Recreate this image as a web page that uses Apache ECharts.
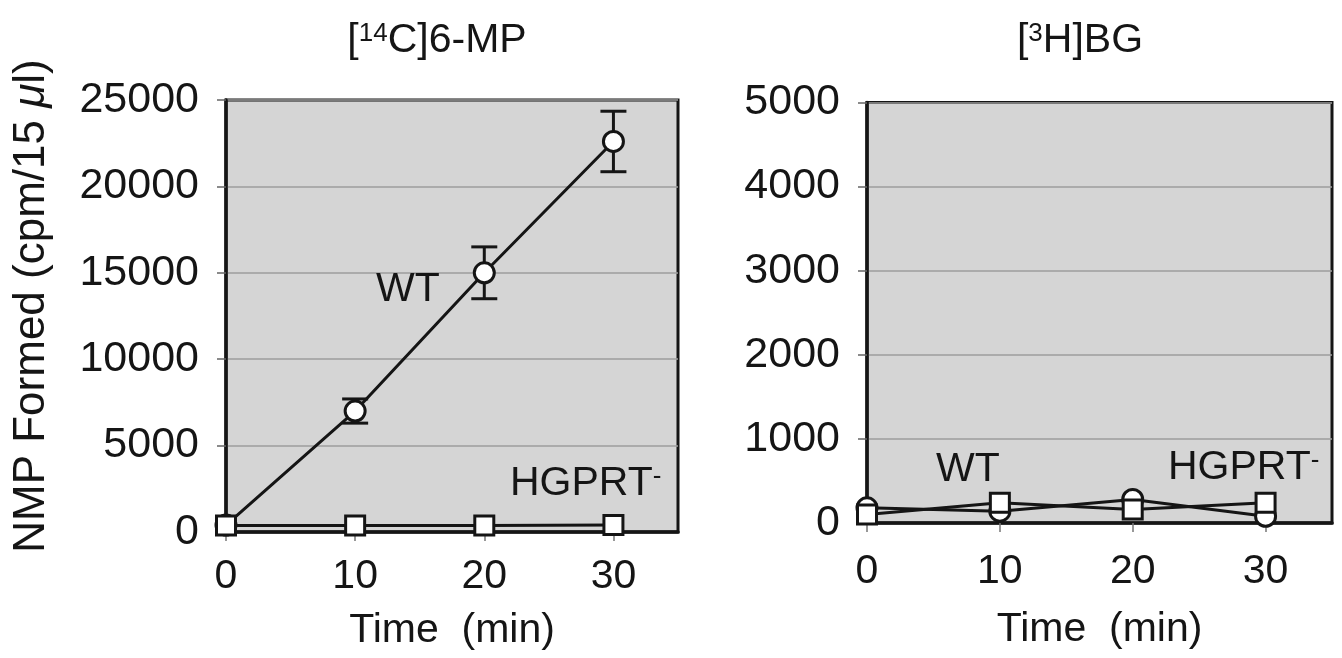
<!DOCTYPE html>
<html>
<head>
<meta charset="utf-8">
<script src="https://cdn.jsdelivr.net/npm/echarts@6/dist/echarts.min.js"></script>
<style>
html, body { margin: 0; padding: 0; background: #fff; }
#chart { width: 1342px; height: 658px; }
</style>
</head>
<body>
<div id="chart"></div>
<script>
// time points (min)
var times = [0, 10, 20, 30];
var xTicks = [0, 10, 20, 30];

// [14C]6-MP panel
var mpWT = [400, 7000, 15000, 22600];
var mpWTErr = [0, 700, 1500, 1750];
var mpHGPRT = [380, 380, 380, 400];

// [3H]BG panel
var bgWT = [180, 140, 280, 80];
var bgHGPRT = [100, 240, 160, 240];

var FONT = 'Liberation Sans';
var INK = '#151515';

function pairs(ys) {
    return times.map(function (t, i) { return [t, ys[i]]; });
}

var errData = [];
times.forEach(function (t, i) {
    if (mpWTErr[i] > 0) errData.push([t, mpWT[i] - mpWTErr[i], mpWT[i] + mpWTErr[i]]);
});

function renderErr(params, api) {
    var x = api.value(0);
    var lo = api.coord([x, api.value(1)]);
    var hi = api.coord([x, api.value(2)]);
    var w = 13;
    var st = { stroke: INK, lineWidth: 3 };
    return {
        type: 'group',
        children: [
            { type: 'line', shape: { x1: lo[0], y1: lo[1], x2: hi[0], y2: hi[1] }, style: st },
            { type: 'line', shape: { x1: lo[0] - w, y1: lo[1], x2: lo[0] + w, y2: lo[1] }, style: st },
            { type: 'line', shape: { x1: hi[0] - w, y1: hi[1], x2: hi[0] + w, y2: hi[1] }, style: st }
        ]
    };
}

function plain(v) { return String(v); }

function xAxis(idx, margin, gap) {
    return {
        gridIndex: idx,
        type: 'value',
        min: 0,
        max: 35,
        interval: 10,
        name: 'Time  (min)',
        nameLocation: 'middle',
        nameGap: gap,
        nameTextStyle: { fontFamily: FONT, fontSize: 41, color: INK },
        axisLine: { show: true, lineStyle: { color: INK, width: 3.5 } },
        axisTick: { show: true, length: 9, customValues: xTicks, lineStyle: { color: '#777', width: 1.5 } },
        axisLabel: { customValues: xTicks, margin: margin, fontFamily: FONT, fontSize: 41, color: INK, formatter: plain },
        splitLine: { show: false }
    };
}

function yAxis(idx, max, interval, extra) {
    var a = {
        gridIndex: idx,
        type: 'value',
        min: 0,
        max: max,
        interval: interval,
        axisLine: { show: true, lineStyle: { color: INK, width: 3.5 } },
        axisTick: { show: true, length: 9, lineStyle: { color: '#666', width: 1.5 } },
        axisLabel: { margin: 27, fontFamily: FONT, fontSize: 43, color: INK, formatter: plain },
        splitLine: { show: true, lineStyle: { color: '#9c9c9c', width: 1.5 } }
    };
    return Object.assign(a, extra || {});
}

function lineSeries(xi, data, symbol, size) {
    return {
        type: 'line',
        xAxisIndex: xi,
        yAxisIndex: xi,
        data: pairs(data),
        symbol: symbol,
        symbolSize: size,
        showAllSymbol: true,
        lineStyle: { color: INK, width: 3 },
        itemStyle: { color: '#fff', borderColor: INK, borderWidth: 3 },
        z: 3
    };
}

function label(x, y, text, align) {
    return {
        type: 'text',
        x: x,
        y: y,
        z: 100,
        style: {
            text: text,
            fontFamily: FONT,
            fontSize: 41,
            fill: INK,
            align: align || 'left',
            verticalAlign: 'middle',
            rich: {
                s: { fontFamily: FONT, fontSize: 26, fill: INK, verticalAlign: 'top' }
            }
        }
    };
}

var option = {
    backgroundColor: '#fff',
    animation: false,
    grid: [{
        left: 226, top: 100, width: 452, height: 432,
        show: true, backgroundColor: '#d5d5d5', borderColor: INK, borderWidth: 3
    }, {
        left: 867, top: 102.5, width: 465, height: 420.5,
        show: true, backgroundColor: '#d5d5d5', borderColor: INK, borderWidth: 3
    }],
    xAxis: [xAxis(0, 24, 78), xAxis(1, 28, 86)],
    yAxis: [
        yAxis(0, 25000, 5000, {
            name: 'NMP Formed (cpm/15 {mu|μ}l)',
            nameLocation: 'middle',
            nameGap: 172,
            nameTextStyle: {
                fontFamily: FONT, fontSize: 44, color: INK,
                padding: [0, 0, 0, 20],
                rich: { mu: { fontFamily: FONT, fontSize: 44, color: INK, fontStyle: 'italic' } }
            }
        }),
        yAxis(1, 5000, 1000)
    ],
    series: [
        {
            type: 'custom',
            xAxisIndex: 0,
            yAxisIndex: 0,
            renderItem: renderErr,
            data: errData,
            z: 2
        },
        lineSeries(0, mpWT, 'circle', 20),
        lineSeries(0, mpHGPRT, 'rect', 19),
        lineSeries(1, bgWT, 'circle', 20),
        lineSeries(1, bgHGPRT, 'rect', 19)
    ],
    graphic: [
        label(437, 41, '[{s|14}C]6-MP', 'center'),
        label(1080, 41, '[{s|3}H]BG', 'center'),
        label(376, 290, 'WT'),
        label(510, 484, 'HGPRT{s|-}'),
        label(936, 470, 'WT'),
        label(1168, 468, 'HGPRT{s|-}')
    ]
};

var chart = echarts.init(document.getElementById('chart'));
chart.setOption(option);
</script>
</body>
</html>
